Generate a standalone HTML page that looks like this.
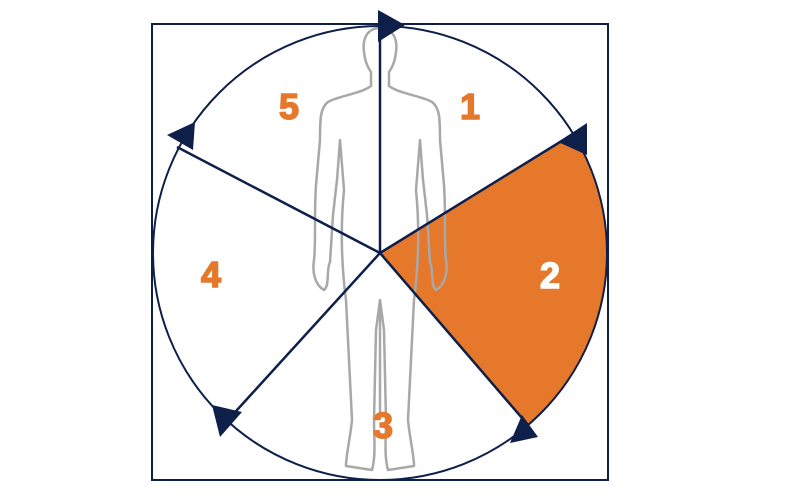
<!DOCTYPE html>
<html><head><style>html,body{margin:0;padding:0;background:#fff;width:800px;height:500px;overflow:hidden}</style></head>
<body>
<svg width="800" height="500" viewBox="0 0 800 500" xmlns="http://www.w3.org/2000/svg">
<rect x="152" y="24" width="456" height="456" fill="none" stroke="#0e1f4a" stroke-width="2"/>
<path d="M380,253 L573,134 A227,227 0 0 1 528,425 Z" fill="#e5782b"/>
<g fill="none" stroke="#a8a8a8" stroke-width="2.5" stroke-linejoin="round">
<path d="M380,28 C368,28 362,38 364,52 C365,62 368,68 371,72 L371,86 C360,94 338,96 328,102 C320,108 320,120 320,140 L316,185 C314,215 316,245 314,260 C312,272 315,285 324,290 C330,285 326,270 330,262 L333,215 L337,180 L340,140 L344,190 C340,230 342,270 346,300 C348,340 350,380 352,420 C350,440 346,455 346,466 L372,470 C376,455 374,440 374,420 L376,330 L380,300 L384,330 L386,420 C386,440 384,455 388,470 L414,466 C414,455 410,440 408,420 C410,380 412,340 414,300 C418,270 420,230 416,190 L420,140 L423,180 L427,215 L430,262 C434,270 430,285 436,290 C445,285 448,272 446,260 C444,245 446,215 444,185 L440,140 C440,120 440,108 432,102 C422,96 400,94 389,86 L389,72 C392,68 395,62 396,52 C398,38 392,28 380,28 Z"/>
<path d="M380,300 L380,420"/>
</g>
<circle cx="380" cy="253" r="227" fill="none" stroke="#0e1f4a" stroke-width="2"/>
<g stroke="#0e1f4a" stroke-width="2.5">
<line x1="380" y1="253" x2="380" y2="27"/>
<line x1="380" y1="253" x2="573" y2="134"/>
<line x1="380" y1="253" x2="528" y2="425"/>
<line x1="380" y1="253" x2="227" y2="421"/>
<line x1="380" y1="253" x2="177" y2="147"/>
</g>
<g fill="#0e1f4a">
<polygon points="378,10 378,42 405,25"/>
<polygon points="558,142 587,123 587,155"/>
<polygon points="510,443 538,437 522,415"/>
<polygon points="212,405 242,412 220,437"/>
<polygon points="167,135 195,122 193,150"/>
</g>
<g font-family="Liberation Sans, sans-serif" font-weight="bold" font-size="36" text-anchor="middle" fill="#e5782b" stroke="#e5782b" stroke-width="1.5">
<text x="289" y="119">5</text>
<text x="470" y="119">1</text>
<text x="550" y="288" fill="#fff" stroke="#fff">2</text>
<text x="211" y="287">4</text>
<text x="383" y="438">3</text>
</g>
</svg>
</body></html>
